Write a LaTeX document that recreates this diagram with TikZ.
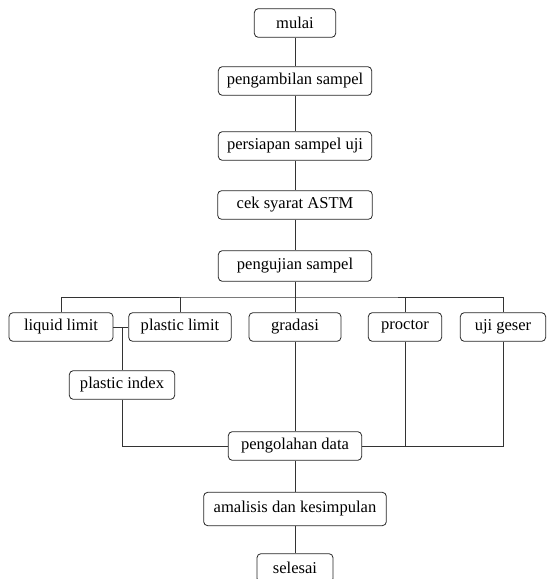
\documentclass[tikz,border=0pt]{standalone}
\usepackage{fontspec}
\setmainfont{Liberation Serif}
\usetikzlibrary{positioning}

\tikzset{
  stepbox/.style={draw=black!85, rounded corners=3pt, line width=0.6pt,
    minimum height=21.5pt, inner sep=2pt, font=\fontsize{12.4}{14}\selectfont},
  link/.style={draw=black!80, line width=0.7pt}
}

\begin{document}
\begin{tikzpicture}[x=0.75pt, y=-0.75pt]

    \useasboundingbox (0,0) rectangle (549,579);

    \pgfmathsetmacro{\midX}{295}
    \pgfmathsetmacro{\busY}{297}
    \pgfmathsetmacro{\testY}{327}
    \pgfmathsetmacro{\joinY}{446}

    % main column
    \node[stepbox, minimum width=61pt]  (mulai)   at (\midX,23)  {mulai};
    \node[stepbox, minimum width=115pt] (ambil)   at (\midX,81)  {pengambilan sampel};
    \node[stepbox, minimum width=115pt] (siap)    at (\midX,146) {persiapan sampel uji};
    \node[stepbox, minimum width=116pt] (astm)    at (\midX,205) {cek syarat ASTM};
    \node[stepbox, minimum width=115pt, minimum height=23pt] (uji) at (\midX,266) {pengujian sampel};

    % tests
    \node[stepbox, minimum width=78pt] (liquid)  at (61,\testY)  {liquid limit};
    \node[stepbox, minimum width=77pt] (plastic) at (180,\testY) {plastic limit};
    \node[stepbox, minimum width=69pt] (gradasi) at (\midX,\testY) {gradasi};
    \node[stepbox, minimum width=55pt] (proctor) at (405,\testY) {proctor};
    \node[stepbox, minimum width=64pt] (geser)   at (503,\testY) {uji geser};

    \node[stepbox, minimum width=79pt] (index)   at (122,385) {plastic index};

    \node[stepbox, minimum width=100pt] (olah)   at (\midX,\joinY) {pengolahan data};
    \node[stepbox, minimum width=137pt, minimum height=25pt] (analisis) at (\midX,509) {amalisis dan kesimpulan};
    \node[stepbox, minimum width=57pt]  (selesai) at (\midX,568) {selesai};

    \coordinate (bus) at (\midX,\busY);
    \coordinate (pi)  at (122,\testY);

    \draw[link] (mulai) -- (ambil);
    \draw[link] (ambil) -- (siap);
    \draw[link] (siap) -- (astm);
    \draw[link] (astm) -- (uji);
    \draw[link] (uji) -- (bus);

    \draw[link] (liquid.north) |- (bus) -| (geser.north);
    \foreach \t in {plastic,gradasi,proctor}
    {
      \draw[link] (bus -| \t) -- (\t.north);
    }

    \draw[link] (liquid) -- (plastic);
    \draw[link] (pi) -- (index);
    \draw[link] (index.south) |- (olah.west);
    \draw[link] (gradasi) -- (olah);
    \draw[link] (proctor.south) |- (olah.east);
    \draw[link] (geser.south) |- (olah.east);

    \draw[link] (olah) -- (analisis);
    \draw[link] (analisis) -- (selesai);

  \end{tikzpicture}
\end{document}
